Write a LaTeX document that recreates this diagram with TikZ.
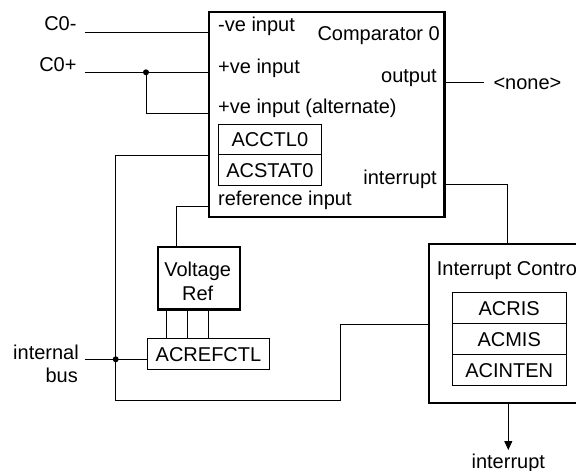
\documentclass[tikz,border=0pt]{standalone}
\usepackage{fontspec}
\setmainfont{Liberation Sans}
\usetikzlibrary{arrows.meta}
\begin{document}
\begin{tikzpicture}[x=1pt,y=-1pt,
  every node/.style={font=\fontsize{20}{23}\selectfont, inner sep=0pt},
  wire/.style={line width=1pt},
  bigbox/.style={draw, line width=2.2pt, anchor=north west},
  reg/.style={draw, line width=1pt, anchor=north west, text height=14.3pt, text depth=0pt},
  txt/.style={anchor=base west},
  txtr/.style={anchor=base east},
  dot/.style={circle, fill, minimum size=6pt, inner sep=0pt}]
\useasboundingbox (0,0) rectangle (576,471);
\clip (0,0) rectangle (576,471);

% Comparator block
\node[bigbox, minimum width=235.8pt, minimum height=205pt] (comp) at (207.5,11) {};
\node[txt] (tneg) at (218,31.7) {-ve input};
\node[txt] (tpos) at (218,73.3) {+ve input};
\node[txt] (talt) at (218,113.3) {+ve input (alternate)};
\node[txt] (tref) at (218,205) {reference input};
\node[txtr] (tcomp) at (440,40) {Comparator 0};
\node[txtr] (tout) at (437,82.7) {output};
\node[txtr] (tint) at (437,184.3) {interrupt};
\node[reg, minimum width=102.7pt, minimum height=30.3pt] (acctl) at (218,124) {ACCTL0};
\node[reg, minimum width=102.7pt, minimum height=30.7pt] (acstat) at (218,154.3) {ACSTAT0};

% Voltage reference
\node[bigbox, minimum width=82pt, minimum height=62.3pt] (vref) at (156.7,246) {};
\node[anchor=base] (vreft1) at (197.7,276.7) {Voltage};
\node[anchor=base] (vreft2) at (197.7,300) {Ref};
\node[reg, minimum width=122.6pt, minimum height=31pt] (acref) at (146.7,338.3) {ACREFCTL};

% Interrupt control
\node[bigbox, minimum width=172.3pt, minimum height=159pt] (ic) at (427.7,242.7) {};
\node[txt] (tic) at (436.7,275) {Interrupt Control};
\node[reg, minimum width=114pt, minimum height=31.3pt] (acris) at (451.7,292) {ACRIS};
\node[reg, minimum width=114pt, minimum height=31pt] (acmis) at (451.7,323.3) {ACMIS};
\node[reg, minimum width=114pt, minimum height=30.7pt] (acinten) at (451.7,354.3) {ACINTEN};

% Outside labels
\node[txtr] (lc0m) at (76.7,30.7) {C0-};
\node[txtr] (lc0p) at (76.7,71.7) {C0+};
\node[txtr] (lint) at (79,359.3) {internal};
\node[txtr] (lbus) at (78,382.7) {bus};
\node[txt] (lnone) at (493.3,89) {<none>};
\node[anchor=base] (lirq) at (508.3,468.5) {interrupt};

% Routing coordinates
\coordinate (c0m) at (85,32.3);
\coordinate (c0p) at (85,72.3);
\coordinate (j1) at (146,72.3);
\coordinate (altin) at (146,113.3);
\coordinate (bl) at (115.7,400);
\coordinate (bt) at (340.7,324);
\coordinate (ib) at (85,359.3);
\coordinate (j2) at (115.7,359.3);
\coordinate (rx) at (176.7,206);
\coordinate (v1) at (166.7,0);
\coordinate (v2) at (187.3,0);
\coordinate (v3) at (208,0);
\coordinate (o1) at (484,82.7);
\coordinate (i1) at (507.7,184.3);
\coordinate (i2) at (508.3,450);

% Wires
\draw[wire] (c0m) -- (c0m -| comp.west);
\draw[wire] (c0p) -- (c0p -| comp.west);
\draw[wire] (j1) |- (comp.west |- altin);
\draw[wire] (comp.west |- acctl.south) -| (bl) -| (bt) -- (bt -| ic.west);
\draw[wire] (ib) -- (ib -| acref.west);
\draw[wire] (comp.west |- rx) -| (vref.north -| rx);
\draw[wire] (vref.south -| v1) -- (acref.north -| v1);
\draw[wire] (vref.south -| v2) -- (acref.north -| v2);
\draw[wire] (vref.south -| v3) -- (acref.north -| v3);
\draw[wire] (comp.east |- o1) -- (o1);
\draw[wire] (comp.east |- i1) -| (ic.north -| i1);
\draw[wire, -{Triangle[width=8pt,length=9pt]}] (ic.south -| i2) -- (i2);

\node[dot] (d1) at (j1) {};
\node[dot] (d2) at (j2) {};
\end{tikzpicture}
\end{document}
